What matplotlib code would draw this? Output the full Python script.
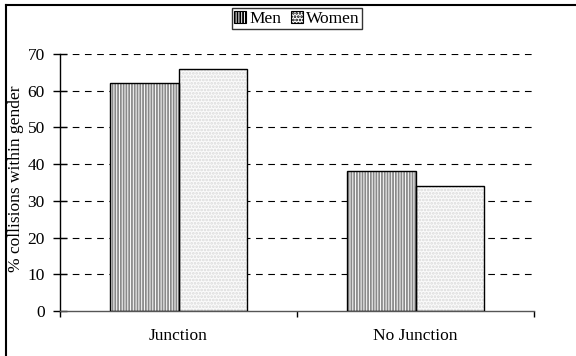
import numpy as np
import matplotlib
matplotlib.use("Agg")
import matplotlib.pyplot as plt
from matplotlib.patches import Patch
from matplotlib.lines import Line2D

plt.rcParams['font.family'] = ['Liberation Serif', 'DejaVu Serif']
plt.rcParams['font.size'] = 12.5
plt.rcParams['hatch.linewidth'] = 1.3

categories = ["Junction", "No Junction"]
men = [62, 38]
women = [66, 34]
yticks = [0, 10, 20, 30, 40, 50, 60, 70]

fig = plt.figure(figsize=(5.76, 3.56), dpi=100)
ax = fig.add_axes([60/576, 1 - 311/356, 474/576, 257/356])

x = np.arange(len(categories))
w = 0.289

# hatched fills first, then plain outlines on top
ax.bar(x - w/2, men, w, color='white', edgecolor='#8a8a8a', hatch='||||||', linewidth=0, zorder=2)
ax.bar(x + w/2, women, w, color='#fbfbfb', edgecolor='#dadada', hatch='.....', linewidth=0, zorder=2)
ax.bar(x - w/2, men, w, facecolor='none', edgecolor='black', linewidth=1.0, zorder=3)
ax.bar(x + w/2, women, w, facecolor='none', edgecolor='black', linewidth=1.0, zorder=3)

ax.set_xlim(-0.5, len(categories) - 0.5)
ax.set_ylim(0, 70)
ax.set_yticks(yticks)
ax.set_xticks(x)
ax.set_xticklabels(categories)
ax.set_xticks(np.arange(-0.5, len(categories), 1.0), minor=True)
ax.tick_params(axis='x', which='major', length=0, pad=12)
ax.tick_params(axis='x', which='minor', length=4, direction='out', width=1)
ax.tick_params(axis='y', direction='inout', length=10, width=1, pad=6)

for yv in yticks[1:]:
    ax.axhline(yv, color='black', linewidth=0.8, linestyle=(0, (6, 5)), zorder=1)

for s in ['top', 'right']:
    ax.spines[s].set_visible(False)
ax.spines['left'].set_linewidth(1)
ax.spines['bottom'].set_linewidth(1)
ax.spines['bottom'].set_color('#555555')

fig.text(16/576, 177/356, "% collisions within gender", rotation=90,
         ha='center', va='center', fontsize=12.5)

handles = [Patch(facecolor='white', edgecolor='black', hatch='||||||', linewidth=0.8),
           Patch(facecolor='white', edgecolor='black', hatch='.....', linewidth=0.8)]
leg = fig.legend(handles, ["Men", "Women"], loc='upper center', ncol=2,
                 bbox_to_anchor=(297/576, 1 - 8/356), frameon=True, fancybox=False,
                 edgecolor='black', handlelength=0.7, handleheight=0.7,
                 handletextpad=0.2, columnspacing=0.5, borderpad=0.15, borderaxespad=0)
leg.get_frame().set_linewidth(1.0)

# outer chart frame
fig.add_artist(Line2D([6/576, 6/576], [0, 1 - 5/356], color='black', linewidth=1.5, transform=fig.transFigure))
fig.add_artist(Line2D([6/576, 1], [1 - 5/356, 1 - 5/356], color='black', linewidth=1.5, transform=fig.transFigure))

fig.savefig("out.png", dpi=100)
